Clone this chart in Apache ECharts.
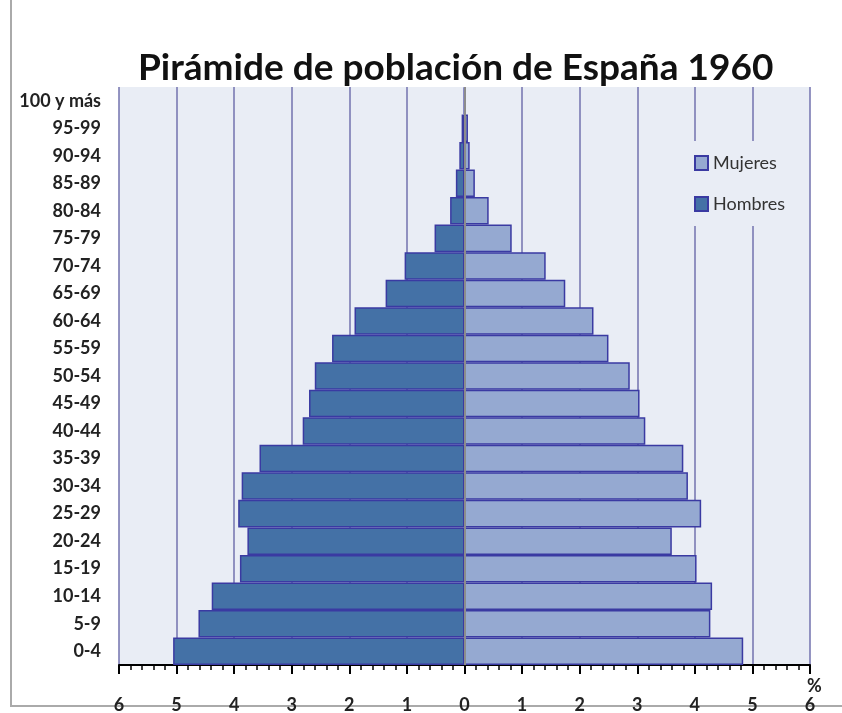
<!DOCTYPE html>
<html>
	<head>
		<meta charset="utf-8">
		<script src="https://cdn.jsdelivr.net/npm/echarts@6/dist/echarts.min.js"></script>
	</head>
	<body style="margin:0;background:#fff;">
		<div id="main" style="width:842px;height:713px;"></div>
		<script>
			// grupos de edad, de abajo arriba
			var edades = ['0-4','5-9','10-14','15-19','20-24','25-29','30-34','35-39','40-44','45-49',
				'50-54','55-59','60-64','65-69','70-74','75-79','80-84','85-89','90-94','95-99','100 y más'];
			// % de la población total
			var hombres = [5.06,4.62,4.39,3.90,3.77,3.93,3.87,3.56,2.81,2.70,
				2.60,2.30,1.91,1.37,1.04,0.52,0.25,0.15,0.09,0.05,0.01];
			var mujeres = [4.84,4.27,4.30,4.03,3.60,4.11,3.88,3.80,3.14,3.04,
				2.87,2.50,2.24,1.75,1.41,0.82,0.42,0.18,0.09,0.06,0.02];

			var hombresNeg = hombres.map(function (v) { return -v; });
			var fuente = 'Lato, "Open Sans", sans-serif';

			var option = {
				animation: false,
				title: {
					text: 'Pirámide de población de España 1960',
					left: 133,
					top: 45,
					textStyle: {fontFamily: fuente, fontSize: 37, fontWeight: 'bold', color: '#111'}
				},
				legend: {
					data: ['Mujeres', 'Hombres'],
					orient: 'vertical',
					left: 688,
					top: 141,
					padding: [13, 12, 13, 6],
					itemGap: 23,
					itemWidth: 13,
					itemHeight: 14,
					icon: 'rect',
					backgroundColor: '#E9EDF5',
					textStyle: {fontFamily: fuente, fontSize: 18, color: '#333'}
				},
				grid: {
					left: 119, right: 32, top: 87, bottom: 48,
					outerBoundsMode: 'none',
					show: true, backgroundColor: '#E9EDF5', borderWidth: 0
				},
				xAxis: {
					type: 'value',
					min: -6, max: 6, interval: 1,
					axisLine: {show: true, lineStyle: {color: '#000', width: 2}},
					axisTick: {show: true, length: 9, lineStyle: {color: '#000', width: 2}},
					minorTick: {show: true, splitNumber: 5, length: 5, lineStyle: {color: '#000', width: 1.5}},
					splitLine: {show: true, lineStyle: {color: '#7272AE', width: 1.5}},
					axisLabel: {
						margin: 31,
						fontFamily: fuente, fontSize: 18, fontWeight: 'bold', color: '#222',
						formatter: function (v) { return Math.abs(v); }
					}
				},
				yAxis: {
					type: 'category',
					data: edades,
					axisLine: {show: false},
					axisTick: {show: false},
					axisLabel: {margin: 18, fontFamily: fuente, fontSize: 18, fontWeight: 'bold', color: '#222'}
				},
				graphic: [
					{type: 'rect', z: -1, shape: {x: 11, y: -5, width: 900, height: 711},
						style: {fill: 'none', stroke: '#AAAAAA', lineWidth: 2}},
					{type: 'text', left: 807, top: 677,
						style: {text: '%', font: 'bold 18px ' + fuente, fill: '#222'}}
				],
				series: [
					{
						name: 'Hombres',
						type: 'bar',
						data: hombresNeg,
						barGap: '-100%',
						barCategoryGap: 0,
						itemStyle: {color: '#4471A6', borderColor: '#3A3AA2', borderWidth: 1.5},
						markLine: {
							silent: true, symbol: 'none', label: {show: false},
							lineStyle: {color: '#8C8C8C', width: 2, type: 'solid'},
							data: [{xAxis: 0}]
						}
					},
					{
						name: 'Mujeres',
						type: 'bar',
						data: mujeres,
						barCategoryGap: 0,
						itemStyle: {color: '#95A9D1', borderColor: '#3A3AA2', borderWidth: 1.5}
					}
				]
			};
			var myChart = echarts.init(document.getElementById('main'));
			myChart.setOption(option, true);
		</script>
	</body>
</html>
